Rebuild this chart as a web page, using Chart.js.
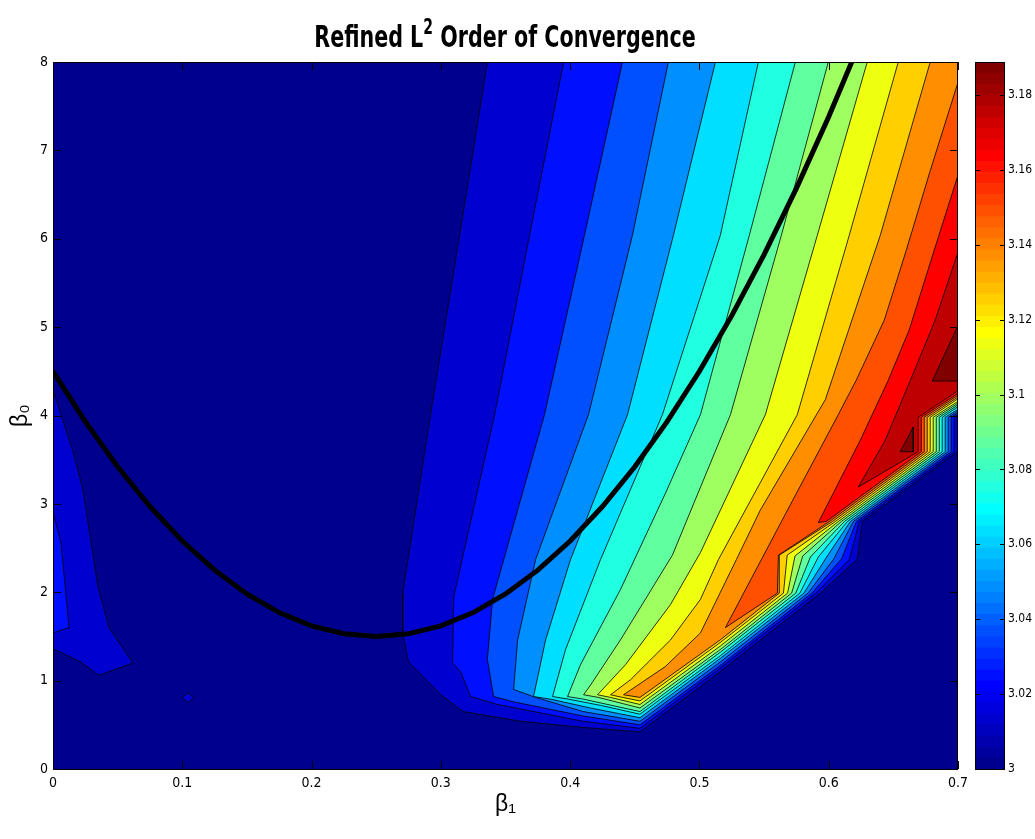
<!DOCTYPE html>
<html>
<head>
<meta charset="utf-8">
<title>Refined L2 Order of Convergence</title>
<script src="https://cdn.jsdelivr.net/npm/chart.js@4.4.1/dist/chart.umd.min.js"></script>
<style>
  body { margin: 0; background: #fff; }
  #wrap { position: relative; width: 1035px; height: 839px; overflow: hidden; }
  #title { position: absolute; left: 0; top: 18px; width: 1010px; text-align: center;
    font: bold 31px 'Liberation Sans Narrow', 'DejaVu Sans Condensed', 'Arial Narrow', sans-serif;
    line-height: 36px; color: #000; transform: scaleX(0.74); transform-origin: 505px 0; }
  #title sup { font-size: 21px; vertical-align: 0; position: relative; top: -13px; }
  #main { position: absolute; left: 0; top: 0; }
  #cbar { position: absolute; left: 960px; top: 0; }
</style>
</head>
<body>
<div id="wrap">
  <canvas id="main" width="1035" height="839"></canvas>
  <canvas id="cbar" width="75" height="839"></canvas>
  <div id="title">Refined L<sup>2</sup> Order of Convergence</div>
</div>
<script>
// contour levels of the refined order (filled regions are "value >= level")
const levels = [3, 3.0125, 3.025, 3.0375, 3.05, 3.0625, 3.075, 3.0875, 3.1, 3.1125,
  3.125, 3.1375, 3.15, 3.1625, 3.175, 3.1875];
const cMin = 3;
const cMax = 3.1888;

const xTicks = [0, 0.1, 0.2, 0.3, 0.4, 0.5, 0.6, 0.7];
const yTicks = [0, 1, 2, 3, 4, 5, 6, 7, 8];
const cbTicks = [3, 3.02, 3.04, 3.06, 3.08, 3.1, 3.12, 3.14, 3.16, 3.18];

// region outlines, [beta1, beta0]
const level0 = [[0, 0], [0.7, 0], [0.7, 8], [0, 8]];
const level1 = [[0.336, 8], [0.3145, 6.04], [0.292, 4.01], [0.2705, 1.99], [0.2705, 1.54], [0.275, 1.21], [0.3, 0.84], [0.317, 0.65], [0.362, 0.54], [0.41, 0.47], [0.454, 0.42], [0.516, 1.1], [0.5935, 1.99], [0.622, 2.37], [0.626, 2.8], [0.6994, 3.59], [0.7, 3.59], [0.7, 8]];
const island1 = [[0, 4.29], [0.0155, 3.59], [0.0232, 3.16], [0.0348, 2.06], [0.0433, 1.6], [0.0618, 1.2], [0.0355, 1.06], [0.0216, 1.21], [0, 1.36]];
const diamond1 = [[0.0997, 0.81], [0.1043, 0.86], [0.109, 0.81], [0.1043, 0.75]];
const level2 = [[0.395, 8], [0.3686, 6.04], [0.3416, 4.01], [0.31, 1.95], [0.309, 1.2], [0.3153, 1.1], [0.323, 0.82], [0.3439, 0.73], [0.41, 0.54], [0.454, 0.46], [0.516, 1.14], [0.59, 1.99], [0.616, 2.37], [0.6236, 2.8], [0.697, 3.59], [0.697, 3.98], [0.7, 4.01], [0.7, 8]];
const island2 = [[0, 2.91], [0.0062, 2.56], [0.0124, 1.6], [0, 1.54]];
const level3 = [[0.4405, 8], [0.4111, 6.04], [0.3802, 4.01], [0.34, 1.92], [0.336, 1.24], [0.3408, 0.82], [0.3563, 0.76], [0.41, 0.6], [0.454, 0.5], [0.516, 1.17], [0.587, 1.99], [0.61, 2.38], [0.6213, 2.8], [0.6947, 3.59], [0.6947, 3.98], [0.7, 4.03], [0.7, 8]];
const level4 = [[0.476, 8], [0.4482, 6.04], [0.4142, 4.01], [0.3733, 2.37], [0.3594, 1.46], [0.3563, 0.9], [0.3733, 0.81], [0.41, 0.65], [0.454, 0.54], [0.516, 1.21], [0.584, 1.99], [0.604, 2.38], [0.619, 2.8], [0.6924, 3.59], [0.6924, 3.98], [0.7, 4.05], [0.7, 8]];
const level5 = [[0.5124, 8], [0.4799, 6.04], [0.4444, 4.01], [0.4003, 2.37], [0.381, 1.46], [0.3717, 0.82], [0.3849, 0.79], [0.4158, 0.69], [0.454, 0.58], [0.516, 1.25], [0.5808, 1.99], [0.598, 2.39], [0.6167, 2.8], [0.6901, 3.59], [0.6901, 3.98], [0.7, 4.07], [0.7, 8]];
const level6 = [[0.5456, 8], [0.5162, 6.04], [0.4714, 4.01], [0.4235, 2.37], [0.3964, 1.35], [0.3864, 0.82], [0.3988, 0.79], [0.4235, 0.72], [0.454, 0.62], [0.516, 1.28], [0.5777, 1.99], [0.592, 2.4], [0.6144, 2.8], [0.6878, 3.59], [0.6878, 3.98], [0.7, 4.1], [0.7, 8]];
const level7 = [[0.5742, 8], [0.5386, 6.04], [0.5008, 4.01], [0.4737, 3.12], [0.4389, 2.03], [0.408, 1.18], [0.398, 0.82], [0.4104, 0.79], [0.454, 0.65], [0.516, 1.32], [0.5745, 1.99], [0.5859, 2.4], [0.6121, 2.8], [0.6855, 3.59], [0.6855, 3.98], [0.7, 4.12], [0.7, 8]];
const level8 = [[0.5997, 8], [0.5634, 6.04], [0.524, 4.01], [0.4791, 2.42], [0.4389, 1.46], [0.4158, 0.95], [0.4104, 0.84], [0.4219, 0.81], [0.454, 0.69], [0.516, 1.35], [0.5713, 1.99], [0.5799, 2.41], [0.6097, 2.8], [0.6832, 3.59], [0.6832, 3.98], [0.7, 4.14], [0.7, 8]];
const level9 = [[0.6298, 8], [0.5912, 6.04], [0.551, 4.01], [0.5008, 2.45], [0.4776, 1.86], [0.4428, 1.18], [0.4212, 0.84], [0.4312, 0.81], [0.454, 0.73], [0.516, 1.39], [0.5682, 1.99], [0.5739, 2.41], [0.6074, 2.8], [0.6808, 3.59], [0.6808, 3.98], [0.7, 4.16], [0.7, 8]];
const level10 = [[0.6538, 8], [0.6159, 6.04], [0.5757, 4.01], [0.5147, 2.37], [0.5008, 1.92], [0.4776, 1.46], [0.4467, 1.01], [0.4312, 0.84], [0.4405, 0.81], [0.454, 0.77], [0.516, 1.43], [0.565, 1.99], [0.5679, 2.42], [0.6051, 2.8], [0.6785, 3.59], [0.6785, 3.98], [0.7, 4.19], [0.7, 8]];
const level11 = [[0.6785, 8], [0.6399, 6.04], [0.5974, 4.18], [0.5471, 2.93], [0.5286, 2.37], [0.5008, 1.54], [0.4737, 1.16], [0.4413, 0.84], [0.454, 0.81], [0.516, 1.46], [0.5618, 1.99], [0.5618, 2.42], [0.6028, 2.8], [0.6762, 3.59], [0.6762, 3.98], [0.7, 4.21], [0.7, 8]];
const level12 = [[0.7, 7.77], [0.6785, 6.77], [0.66, 5.87], [0.643, 5.08], [0.6213, 4.4], [0.6074, 4.01], [0.5703, 2.99], [0.5201, 1.6], [0.5603, 1.99], [0.5611, 2.42], [0.6005, 2.8], [0.6739, 3.59], [0.6739, 3.98], [0.7, 4.23]];
const level13 = [[0.7, 6.72], [0.6816, 5.87], [0.6623, 4.97], [0.6461, 4.4], [0.6244, 3.72], [0.592, 2.79], [0.5981, 2.8], [0.6716, 3.59], [0.6716, 3.98], [0.7, 4.25]];
const level14 = [[0.7, 5.85], [0.6824, 5.08], [0.6615, 4.34], [0.6437, 3.72], [0.6229, 3.19], [0.6692, 3.59], [0.6692, 3.98], [0.7, 4.28]];
const level15a = [[0.6801, 4.39], [0.7, 5.02], [0.7, 4.39]];
const level15b = [[0.6553, 3.59], [0.6654, 3.87], [0.6654, 3.59]];

// black curve
const curveBeta1 = [0, 0.025, 0.05, 0.075, 0.1, 0.125, 0.15, 0.175, 0.2, 0.225, 0.25, 0.275, 0.3,
  0.325, 0.35, 0.375, 0.4, 0.425, 0.45, 0.475, 0.5, 0.525, 0.55, 0.575, 0.6, 0.625];
const curveBeta0 = [4.5, 3.93, 3.42, 2.97, 2.58, 2.25, 1.98, 1.77, 1.62, 1.53, 1.5, 1.53, 1.62,
  1.77, 1.98, 2.25, 2.58, 2.97, 3.42, 3.93, 4.5, 5.13, 5.82, 6.57, 7.38, 8.25];

const regions = [
  [0, level0], [1, level1], [1, island1], [1, diamond1], [2, level2], [2, island2],
  [3, level3], [4, level4], [5, level5], [6, level6], [7, level7], [8, level8],
  [9, level9], [10, level10], [11, level11], [12, level12], [13, level13], [14, level14],
  [15, level15a], [15, level15b]
];

const FONT = "'Liberation Sans Narrow', 'DejaVu Sans Condensed', 'Arial Narrow', sans-serif";
Chart.defaults.font.family = FONT;
Chart.defaults.font.size = 14;
Chart.defaults.color = '#000';

function jet(f) {
  const c = t => Math.round(255 * Math.max(0, Math.min(1, 1.5 - Math.abs(t))));
  return `rgb(${c(4 * f - 3)},${c(4 * f - 2)},${c(4 * f - 1)})`;
}

function levelColor(v) {
  const idx = Math.min(64, Math.floor((v - cMin) / (cMax - cMin) * 64) + 1);
  return jet(idx / 64);
}

function fmt(v) {
  return String(+v.toFixed(3));
}

const inwardTicks = {
  id: 'inwardTicks',
  afterDraw(chart, args, opts) {
    const {ctx, chartArea: a, scales} = chart;
    const len = opts.length;
    ctx.save();
    ctx.strokeStyle = '#000';
    ctx.lineWidth = 1;
    ctx.beginPath();
    for (const id of opts.axes) {
      const s = scales[id];
      for (const t of s.ticks) {
        const p = Math.round(s.getPixelForValue(t.value)) + 0.5;
        if (s.isHorizontal()) {
          ctx.moveTo(p, a.bottom); ctx.lineTo(p, a.bottom - len);
          ctx.moveTo(p, a.top); ctx.lineTo(p, a.top + len);
        } else {
          ctx.moveTo(a.left, p); ctx.lineTo(a.left + len, p);
          ctx.moveTo(a.right, p); ctx.lineTo(a.right - len, p);
        }
      }
    }
    ctx.stroke();
    ctx.strokeRect(Math.round(a.left) + 0.5, Math.round(a.top) + 0.5,
      Math.round(a.width) - 1, Math.round(a.height));
    ctx.restore();
  }
};

const datasets = regions.map(([k, pts], i) => ({
  data: pts.concat([pts[0]]).map(([x, y]) => ({x, y})),
  showLine: true,
  fill: 'shape',
  backgroundColor: levelColor(levels[k]),
  borderColor: k === 0 ? 'rgba(0,0,0,0)' : '#000',
  borderWidth: k === 0 ? 0 : 0.8,
  pointRadius: 0,
  tension: 0,
  clip: 0,
  order: regions.length - i + 1
}));

datasets.push({
  data: curveBeta1.map((x, i) => ({x, y: curveBeta0[i]})),
  showLine: true,
  fill: false,
  borderColor: '#000',
  borderWidth: 5,
  pointRadius: 0,
  tension: 0,
  clip: 0,
  order: 0
});

new Chart(document.getElementById('main'), {
  type: 'scatter',
  data: {datasets},
  options: {
    responsive: false,
    animation: false,
    events: [],
    layout: {padding: {top: 62, right: 77, left: 3, bottom: 17}},
    plugins: {
      legend: {display: false},
      tooltip: {enabled: false},
      inwardTicks: {axes: ['x', 'y'], length: 8}
    },
    scales: {
      x: {
        type: 'linear', min: 0, max: 0.7,
        afterBuildTicks: s => { s.ticks = xTicks.map(value => ({value})); },
        ticks: {callback: fmt, padding: 6, maxRotation: 0},
        grid: {display: false, drawTicks: false},
        border: {display: false},
        title: {display: true, text: 'β₁', font: {family: "'Liberation Sans', 'DejaVu Sans', sans-serif", size: 23}},
        afterFit: s => { s.height = 53; }
      },
      y: {
        type: 'linear', min: 0, max: 8,
        afterBuildTicks: s => { s.ticks = yTicks.map(value => ({value})); },
        ticks: {callback: fmt, padding: 5},
        grid: {display: false, drawTicks: false},
        border: {display: false},
        title: {display: true, text: 'β₀', font: {family: "'Liberation Sans', 'DejaVu Sans', sans-serif", size: 23}},
        afterFit: s => { s.width = 50; }
      }
    }
  },
  plugins: [inwardTicks]
});

// colour bar: the 64-step jet map from cMin to cMax
const cbSets = [];
for (let i = 0; i < 64; i++) {
  const lo = cMin + (cMax - cMin) * i / 64;
  const hi = cMin + (cMax - cMin) * (i + 1) / 64;
  cbSets.push({
    data: [[lo, hi]],
    backgroundColor: jet((i + 1) / 64),
    borderWidth: 0,
    barPercentage: 1,
    categoryPercentage: 1,
    grouped: false
  });
}

new Chart(document.getElementById('cbar'), {
  type: 'bar',
  data: {labels: [''], datasets: cbSets},
  options: {
    responsive: false,
    animation: false,
    events: [],
    layout: {padding: {left: 15, top: 62, bottom: 70}},
    plugins: {
      legend: {display: false},
      tooltip: {enabled: false},
      inwardTicks: {axes: ['y'], length: 5}
    },
    scales: {
      x: {display: false},
      y: {
        position: 'right', min: cMin, max: cMax,
        afterBuildTicks: s => { s.ticks = cbTicks.map(value => ({value})); },
        ticks: {callback: fmt, padding: 3, font: {size: 12}},
        grid: {display: false, drawTicks: false},
        border: {display: false},
        afterFit: s => { s.width = 30; }
      }
    }
  },
  plugins: [inwardTicks]
});
</script>
</body>
</html>
